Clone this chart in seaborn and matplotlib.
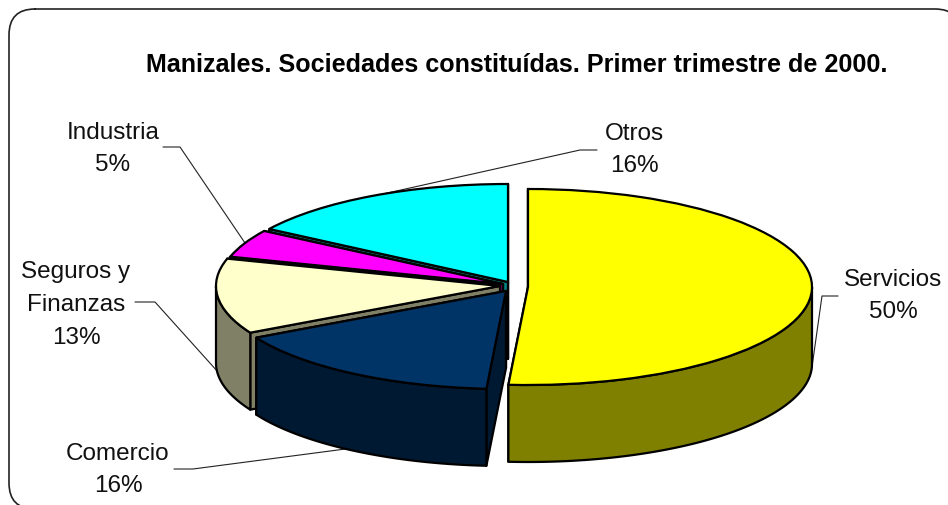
import numpy as np
import pandas as pd
import matplotlib
matplotlib.use('Agg')
import matplotlib.pyplot as plt
import seaborn as sns
from matplotlib.patches import FancyBboxPatch, Polygon
from matplotlib.transforms import Affine2D

# ================= data =================
sectors = ['Servicios', 'Comercio', 'Seguros y\nFinanzas', 'Industria', 'Otros']
printed_pct = [50, 16, 13, 5, 16]
# shares as drawn in the picture (measured from the slice angles)
drawn_share = [51.1, 16.0, 12.4, 4.6, 15.9]
top_colors = ['#FFFF00', '#003366', '#FFFFCC', '#FF00FF', '#00FFFF']
side_colors = ['#808000', '#001933', '#808066', '#800080', '#008080']

# ================= layout (pixels) =================
W, H = 948, 506
RX, RY, DEPTH = 284, 98, 77
apex = [(528, 288), (506, 292), (500, 287), (503, 285), (508, 283)]
draw_order = [4, 3, 2, 1, 0]
label_pos = [(893, 296), (118, 470), (76, 305), (113, 149), (634, 150)]
leaders = [
    [(838, 297), (822, 297), (812, 368)],
    [(174, 470), (193, 470), (353, 449)],
    [(135, 303), (155, 303), (218, 373)],
    [(163, 148), (180, 148), (245, 244)],
    [(597, 151), (580, 151), (383, 195)],
]

sns.set_theme(style='white')
plt.rcParams['font.family'] = ['Liberation Sans', 'DejaVu Sans']

df = pd.DataFrame({'sector': sectors, 'pct': printed_pct, 'share': drawn_share})

fig = plt.figure(figsize=(W / 100, H / 100), dpi=100)
ax = fig.add_axes([0, 0, 1, 1])

wedges, _ = ax.pie(df['share'], colors=top_colors, startangle=90, counterclock=False,
                   wedgeprops={'edgecolor': 'black', 'linewidth': 1.6})
ax.set_aspect('auto')
ax.set_xlim(0, W)
ax.set_ylim(H, 0)
ax.axis('off')

# rounded outer frame, runs off the right and bottom of the image
# flattened to a polyline, agg mangles bezier corners that leave the canvas
frame = FancyBboxPatch((35, 36), 900, 448, boxstyle='round,pad=26,rounding_size=26')
outline = frame.get_path().to_polygons(closed_only=False)[0]
ax.plot(outline[:, 0], outline[:, 1], color='#222222', lw=1.2, zorder=1)


def arc(cx, cy, angles, dz=0):
    t = np.radians(angles)
    return np.column_stack([cx + RX * np.cos(t), cy - RY * np.sin(t) + dz])


# 3D look: each slice = cut faces, then rim, then the top
for z, i in enumerate(draw_order):
    w = wedges[i]
    cx, cy = apex[i]
    base = 10 + z * 4
    side = dict(fc=side_colors[i], ec='black', lw=1.6, joinstyle='round')
    for a in (w.theta1, w.theta2):
        p = arc(cx, cy, [a])[0]
        quad = [(cx, cy), p, (p[0], p[1] + DEPTH), (cx, cy + DEPTH)]
        ax.add_patch(Polygon(quad, zorder=base, **side))
    angles = np.linspace(w.theta1, w.theta2, 240)
    front = angles[np.sin(np.radians(angles)) < 0]
    if len(front):
        rim = np.vstack([arc(cx, cy, front), arc(cx, cy, front[::-1], DEPTH)])
        ax.add_patch(Polygon(rim, zorder=base + 1, **side))
    w.set_transform(Affine2D().scale(RX, -RY).translate(cx, cy) + ax.transData)
    w.set_zorder(base + 2)

# leader lines sit over the pie edge
for pts in leaders:
    xs, ys = zip(*pts)
    ax.plot(xs, ys, color='#222222', lw=0.8, zorder=5)

for name, pct, (x, y) in zip(df['sector'], df['pct'], label_pos):
    ax.text(x, y, f'{name}\n{pct}%', ha='center', va='center', fontsize=17.5,
            linespacing=1.62, color='#111111', zorder=40)

ax.text(517, 65, 'Manizales. Sociedades constituídas. Primer trimestre de 2000.',
        ha='center', va='center', fontsize=18.1, fontweight='bold', color='black', zorder=40)

fig.savefig('out.png', dpi=100)
